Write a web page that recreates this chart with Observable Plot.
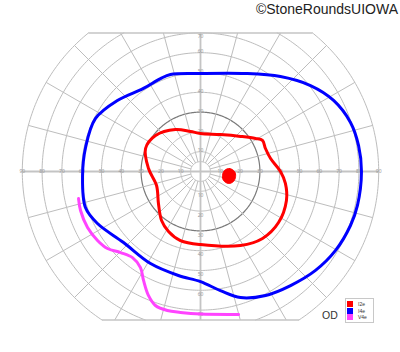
<!DOCTYPE html>
<html><head><meta charset="utf-8">
<script src="https://cdn.jsdelivr.net/npm/d3@7"></script>
<script src="https://cdn.jsdelivr.net/npm/@observablehq/plot@0.6"></script>
<style>
body{margin:0;background:#fff;font-family:"Liberation Sans",Arial,sans-serif}
#wrap{position:relative;width:400px;height:352px;overflow:hidden}
#title{height:18px;line-height:18px;text-align:right;font-size:14px;color:#222;padding-right:2px}
#legend{position:absolute;left:345px;top:298px;width:26px;border:1px solid #c8c8c8;background:#fff;padding:2px 0 1px 1px}
#legend .row{display:flex;align-items:center;height:6.6px;font-size:5px;color:#333}
#legend .sw{width:6px;height:6px;margin-right:5px}
#od{position:absolute;left:322px;top:309px;font-size:10.5px;color:#333}
svg{display:block}
</style></head>
<body><div id="wrap"><div id="title">©StoneRoundsUIOWA</div><div id="chart"></div><div id="od">OD</div><div id="legend"></div></div>
<script>
// ---- grid definition ----
const ringRadii = [5, 10, 20, 30, 40, 50, 60, 70, 80, 90];
const eccTicks = [10, 20, 30, 40, 50, 60, 70, 80, 90];
const spokeAngles = d3.range(0, 360, 15);
const TOP = 70, BOTTOM = -75, MAXR = 90;

// ---- isopter data (meridian angle in degrees, eccentricity in degrees) ----
const isopterNames = ["I2e", "I4e", "V4e"];
const isopterColors = ["#ff0000", "#0000ff", "#ff44ff"];

const i2eAngles = [0, 10.5, 19.5, 26.6, 31, 41.2, 61.6, 90, 104, 120.8, 141.3, 157.3, 176.7, 197.7, 217.3, 231.5, 241.9, 253.8, 270, 298.4, 312.8, 326.8, 341.4, 352];
const i2eEcc    = [40.4, 36, 34.8, 35, 32.4, 26.9, 21.2, 19.2, 20.8, 24.7, 29.1, 30.1, 26.3, 23.3, 26.7, 31.6, 34.3, 36.3, 36.9, 42.5, 46.1, 47.1, 45.8, 43.3];

const i4eAngles = [0, 9.3, 18.1, 28.1, 38, 49.9, 65.3, 90, 107.2, 113.3, 124.5, 139.5, 153.2, 168.2, 182, 197.4, 206.8, 222.7, 241.5, 258, 270, 279.5, 287.6, 297.7, 308.3, 319.3, 329.7, 340.2, 347.8];
const i4eEcc    = [81.3, 80.9, 79.7, 76.2, 70.5, 62.7, 54.5, 49.5, 51.3, 51.1, 50.9, 55.2, 59.4, 59.3, 59.6, 60.9, 58.3, 52.9, 52.9, 53.7, 55.6, 61, 66.8, 70.7, 73.4, 76.6, 79, 80.5, 81.1];

const v4eAngles = [192.5, 198, 206.4, 213.8, 219.6, 225.4, 231.7, 238, 242.4, 247.2, 251.4, 256.6, 261.9, 270, 284.9];
const v4eEcc    = [63.1, 63.7, 63.7, 62.6, 61, 57.5, 55.4, 57.2, 62.1, 67.9, 71.4, 72.2, 71.9, 72, 74.7];

// blind spot outline (I2e)
const blindAngles = [0, 5.9, 2.4, 349.7, 338.6, 336.8, 343.1, 351.9];
const blindEcc    = [17.2, 14.7, 12.1, 11.3, 12.5, 15.4, 17.4, 17.9];

// ---- helpers ----
const rad = d => d * Math.PI / 180;
const polar = (angles, ecc) => angles.map((a, i) => ({x: ecc[i] * Math.cos(rad(a)), y: ecc[i] * Math.sin(rad(a))}));

// clipped rings: two arcs each
const ringPts = [];
ringRadii.forEach((r, k) => {
  const tT = Math.asin(Math.min(1, TOP / r)) * 180 / Math.PI;
  const tB = Math.asin(Math.min(1, -BOTTOM / r)) * 180 / Math.PI;
  const arcs = [[-tB, tT], [180 - tT, 180 + tB]];
  arcs.forEach(([a0, a1], j) => {
    const angs = d3.range(a0, a1, 1).concat([a1]);
    angs.forEach(a => ringPts.push({x: r * Math.cos(rad(a)), y: r * Math.sin(rad(a)), id: k * 2 + j, r}));
  });
});

const spokes = spokeAngles.filter(a => a % 90 !== 0).map(a => {
  const s = Math.sin(rad(a));
  let re = MAXR;
  if (s > 0) re = Math.min(re, TOP / s);
  if (s < 0) re = Math.min(re, BOTTOM / s);
  return {x1: 5 * Math.cos(rad(a)), y1: 5 * Math.sin(rad(a)), x2: re * Math.cos(rad(a)), y2: re * Math.sin(rad(a))};
});
const axesLines = [
  {x1: -MAXR, y1: 0, x2: MAXR, y2: 0},
  {x1: 0, y1: BOTTOM, x2: 0, y2: TOP}
];
const edgeLines = [
  {x1: -Math.sqrt(MAXR*MAXR - TOP*TOP), y1: TOP, x2: Math.sqrt(MAXR*MAXR - TOP*TOP), y2: TOP},
  {x1: -Math.sqrt(MAXR*MAXR - BOTTOM*BOTTOM), y1: BOTTOM, x2: Math.sqrt(MAXR*MAXR - BOTTOM*BOTTOM), y2: BOTTOM}
];

const hLabels = eccTicks.flatMap(t => [{x: -t, y: 0, t}, {x: t, y: 0, t}]);
const upLabels = eccTicks.filter(t => t < TOP).map(t => ({x: 0, y: t, t}));
const topLabels = eccTicks.filter(t => t === TOP).map(t => ({x: 0, y: t, t}));
const downLabels = eccTicks.filter(t => t <= -BOTTOM).map(t => ({x: 0, y: -t, t}));

const S = 1.98, CX = 200, CY = 153;
const chart = Plot.plot({
  width: 400, height: 334, margin: 0,
  x: {domain: [-90, 90], range: [CX - 90 * S, CX + 90 * S], axis: null},
  y: {domain: [-90, 90], range: [CY + 90 * S, CY - 90 * S], axis: null},
  marks: [
    Plot.line(ringPts.filter(d => d.r !== 30), {x: "x", y: "y", z: "id", stroke: "#bdbdbd", strokeWidth: 1}),
    Plot.line(ringPts.filter(d => d.r === 30), {x: "x", y: "y", z: "id", stroke: "#7a7a7a", strokeWidth: 1.2}),
    Plot.link(spokes, {x1: "x1", y1: "y1", x2: "x2", y2: "y2", stroke: "#bdbdbd", strokeWidth: 1}),
    Plot.link(axesLines, {x1: "x1", y1: "y1", x2: "x2", y2: "y2", stroke: "#c4c4c4", strokeWidth: 1.8}),
    Plot.link(edgeLines, {x1: "x1", y1: "y1", x2: "x2", y2: "y2", stroke: "#c4c4c4", strokeWidth: 1.5}),
    Plot.text(hLabels, {x: "x", y: "y", text: d => String(d.t), fontSize: 5, fill: "#999"}),
    Plot.text(upLabels, {x: "x", y: "y", text: d => String(d.t), fontSize: 5, fill: "#999", dy: -1}),
    Plot.text(topLabels, {x: "x", y: "y", text: d => String(d.t), fontSize: 5, fill: "#999", dy: 3}),
    Plot.text(downLabels, {x: "x", y: "y", text: d => String(d.t), fontSize: 5, fill: "#999", dy: 4}),
    Plot.line(polar(v4eAngles, v4eEcc), {x: "x", y: "y", stroke: isopterColors[2], strokeWidth: 3, curve: "catmull-rom"}),
    Plot.line(polar(i4eAngles, i4eEcc), {x: "x", y: "y", stroke: isopterColors[1], strokeWidth: 3, curve: "catmull-rom-closed"}),
    Plot.line(polar(i2eAngles, i2eEcc), {x: "x", y: "y", stroke: isopterColors[0], strokeWidth: 3, curve: "catmull-rom-closed"}),
    Plot.line(polar(blindAngles, blindEcc), {x: "x", y: "y", stroke: isopterColors[0], fill: isopterColors[0], strokeWidth: 1, curve: "catmull-rom-closed"})
  ]
});
document.getElementById("chart").appendChild(chart);

const legend = document.getElementById("legend");
isopterNames.forEach((n, i) => {
  const row = document.createElement("div");
  row.className = "row";
  row.innerHTML = `<div class="sw" style="background:${isopterColors[i]}"></div><span>${n}</span>`;
  legend.appendChild(row);
});
</script></body></html>
